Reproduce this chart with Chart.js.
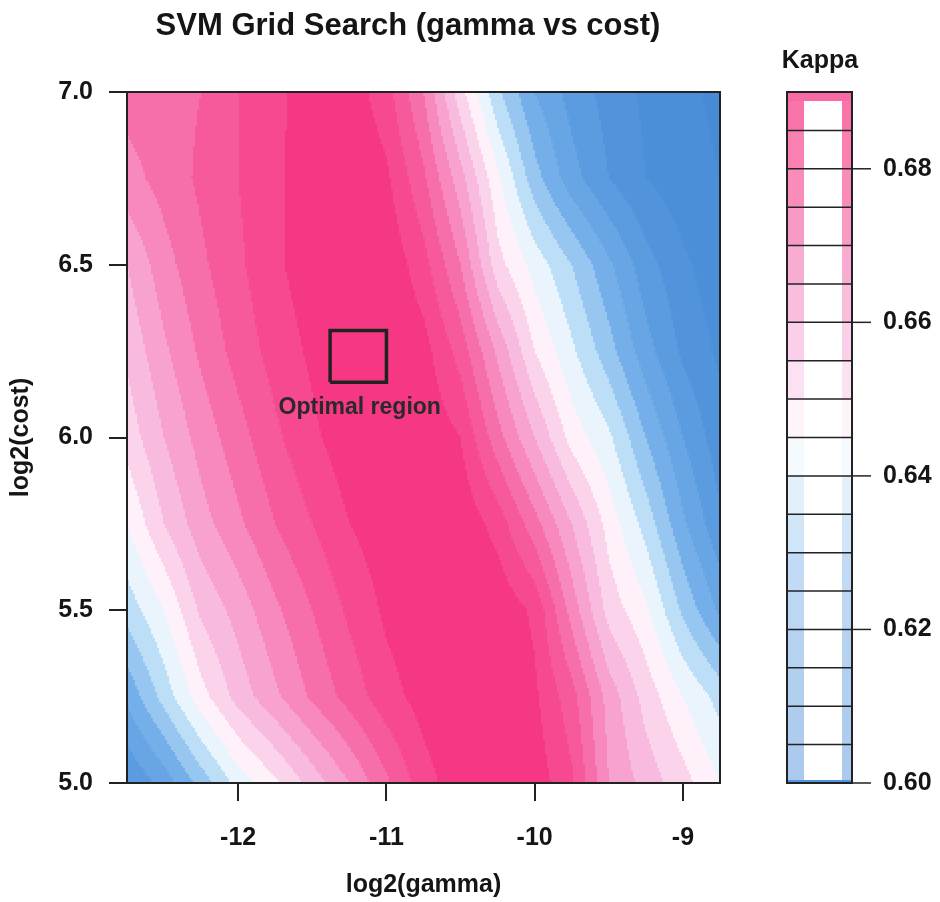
<!DOCTYPE html>
<html>
<head>
<meta charset="utf-8">
<script src="https://cdn.jsdelivr.net/npm/chart.js@4.4.1/dist/chart.umd.min.js"></script>
<style>
  html, body { margin: 0; padding: 0; background: #fff; }
  #wrap { width: 940px; height: 902px; }
</style>
</head>
<body>
<div id="wrap"><canvas id="chart" width="940" height="902"></canvas></div>
<script>
// ===== Data =====
const gammaVals = [-12.75, -12.5, -12.25, -12, -11.75, -11.5, -11.25, -11, -10.75, -10.5, -10.25, -10, -9.75, -9.5, -9.25, -9, -8.75];
const costVals = [5.0, 5.25, 5.5, 5.75, 6.0, 6.25, 6.5, 6.75, 7.0];

// kappa per cost row, left to right along gammaVals
const kappa500 = [0.615, 0.622, 0.632, 0.642, 0.649, 0.657, 0.665, 0.674, 0.683, 0.688, 0.690, 0.688, 0.681, 0.665, 0.658, 0.652, 0.645];
const kappa525 = [0.626, 0.637, 0.648, 0.657, 0.664, 0.671, 0.677, 0.683, 0.687, 0.690, 0.689, 0.686, 0.677, 0.663, 0.653, 0.645, 0.638];
const kappa550 = [0.637, 0.645, 0.656, 0.662, 0.669, 0.675, 0.681, 0.686, 0.689, 0.690, 0.689, 0.684, 0.668, 0.653, 0.646, 0.634, 0.624];
const kappa575 = [0.645, 0.655, 0.663, 0.669, 0.675, 0.680, 0.685, 0.688, 0.690, 0.689, 0.683, 0.672, 0.660, 0.648, 0.638, 0.626, 0.616];
const kappa600 = [0.652, 0.660, 0.667, 0.673, 0.679, 0.684, 0.688, 0.690, 0.689, 0.685, 0.672, 0.660, 0.648, 0.641, 0.630, 0.620, 0.612];
const kappa625 = [0.656, 0.664, 0.671, 0.677, 0.682, 0.686, 0.689, 0.690, 0.687, 0.678, 0.664, 0.650, 0.641, 0.632, 0.622, 0.614, 0.609];
const kappa650 = [0.660, 0.668, 0.674, 0.679, 0.684, 0.688, 0.690, 0.689, 0.682, 0.670, 0.652, 0.643, 0.635, 0.626, 0.617, 0.611, 0.607];
const kappa675 = [0.668, 0.672, 0.676, 0.680, 0.684, 0.688, 0.690, 0.686, 0.676, 0.662, 0.646, 0.632, 0.622, 0.615, 0.610, 0.607, 0.605];
const kappa700 = [0.672, 0.673, 0.675, 0.680, 0.684, 0.687, 0.688, 0.682, 0.670, 0.652, 0.636, 0.625, 0.618, 0.613, 0.609, 0.606, 0.604];
const kappaRows = [kappa500, kappa525, kappa550, kappa575, kappa600, kappa625, kappa650, kappa675, kappa700];

const gammaTicks = [-12, -11, -10, -9];
const costTicks = [5.0, 5.5, 6.0, 6.5, 7.0];
const kappaTicks = [0.60, 0.62, 0.64, 0.66, 0.68];
const kappaLevels = [0.600, 0.605, 0.610, 0.615, 0.620, 0.625, 0.630, 0.635, 0.640, 0.645,
                     0.650, 0.655, 0.660, 0.665, 0.670, 0.675, 0.680, 0.685, 0.690];

// optimal region box (gamma range, cost range) and label anchor
const optGamma = [-11.38, -11.0];
const optCost = [6.16, 6.31];
const optLabel = { x: -11.18, y: 6.085, text: 'Optimal region' };

// ===== Colours =====
const colorStops = [
  [0.600, [68, 136, 212]],
  [0.615, [84, 150, 222]],
  [0.628, [118, 176, 234]],
  [0.638, [192, 224, 248]],
  [0.645, [255, 255, 255]],
  [0.655, [250, 198, 230]],
  [0.665, [247, 150, 200]],
  [0.675, [246, 98, 160]],
  [0.690, [246, 48, 126]],
];

function colorFor(v) {
  if (v <= colorStops[0][0]) return colorStops[0][1];
  for (let i = 1; i < colorStops.length; i++) {
    const [v1, c1] = colorStops[i];
    if (v <= v1) {
      const [v0, c0] = colorStops[i - 1];
      const t = (v - v0) / (v1 - v0);
      return c0.map((c, k) => Math.round(c + (c1[k] - c) * t));
    }
  }
  return colorStops[colorStops.length - 1][1];
}

const rgb = c => `rgb(${c[0]},${c[1]},${c[2]})`;
const tint = (c, w) => c.map(v => Math.round(v + (255 - v) * w));
const bandColors = kappaLevels.slice(0, -1).map((lo, i) => colorFor((lo + kappaLevels[i + 1]) / 2));

function bandIndex(v) {
  for (let i = kappaLevels.length - 2; i >= 0; i--) {
    if (v >= kappaLevels[i]) return i;
  }
  return 0;
}

function kappaAt(g, c) {
  const fx = (g - gammaVals[0]) / (gammaVals[gammaVals.length - 1] - gammaVals[0]) * (gammaVals.length - 1);
  const fy = (c - costVals[0]) / (costVals[costVals.length - 1] - costVals[0]) * (costVals.length - 1);
  const i = Math.max(0, Math.min(gammaVals.length - 2, Math.floor(fx)));
  const j = Math.max(0, Math.min(costVals.length - 2, Math.floor(fy)));
  const tx = Math.max(0, Math.min(1, fx - i));
  const ty = Math.max(0, Math.min(1, fy - j));
  const a = kappaRows[j][i], b = kappaRows[j][i + 1];
  const d = kappaRows[j + 1][i], e = kappaRows[j + 1][i + 1];
  return (a * (1 - tx) + b * tx) * (1 - ty) + (d * (1 - tx) + e * tx) * ty;
}

const FONT = "'Liberation Sans', Arial, sans-serif";
const INK = '#151515';

// ===== Plugins =====
const heatmapPlugin = {
  id: 'heatmap',
  beforeDatasetsDraw(chart) {
    const ctx = chart.ctx;
    const { left, right, top, bottom } = chart.chartArea;
    const xs = chart.scales.x, ys = chart.scales.y;
    const step = 2;
    ctx.save();
    ctx.beginPath();
    ctx.rect(left, top, right - left, bottom - top);
    ctx.clip();
    for (let px = Math.floor(left); px < right; px += step) {
      const g = xs.getValueForPixel(px + step / 2);
      for (let py = Math.floor(top); py < bottom; py += step) {
        const c = ys.getValueForPixel(py + step / 2);
        ctx.fillStyle = rgb(bandColors[bandIndex(kappaAt(g, c))]);
        ctx.fillRect(px, py, step, step);
      }
    }
    ctx.restore();
  },
  afterDatasetsDraw(chart) {
    const ctx = chart.ctx;
    const { left, right, top, bottom } = chart.chartArea;
    ctx.save();
    ctx.strokeStyle = '#222';
    ctx.lineWidth = 2;
    ctx.strokeRect(left, top, right - left, bottom - top);
    // label for the optimal box
    const xs = chart.scales.x, ys = chart.scales.y;
    ctx.fillStyle = '#2a2a2a';
    ctx.font = `bold 23px ${FONT}`;
    ctx.textAlign = 'center';
    ctx.textBaseline = 'middle';
    ctx.fillText(optLabel.text, xs.getPixelForValue(optLabel.x), ys.getPixelForValue(optLabel.y));
    ctx.restore();
  }
};

const colorKeyPlugin = {
  id: 'colorKey',
  afterDraw(chart) {
    const ctx = chart.ctx;
    const ks = chart.scales.k;
    const x0 = 787, x1 = 852;
    ctx.save();
    for (let i = 0; i < kappaLevels.length - 1; i++) {
      const yTop = ks.getPixelForValue(kappaLevels[i + 1]);
      const yBot = ks.getPixelForValue(kappaLevels[i]);
      const c = tint(bandColors[i], kappaLevels[i] < 0.645 ? 0.55 : 0.3);
      ctx.fillStyle = '#fff';
      ctx.fillRect(x0, yTop, x1 - x0, yBot - yTop);
      ctx.fillStyle = rgb(c);
      ctx.fillRect(x0, yTop, 17, yBot - yTop);
      ctx.fillRect(x1 - 10, yTop, 10, yBot - yTop);
    }
    const topY = ks.getPixelForValue(kappaLevels[kappaLevels.length - 1]);
    const botY = ks.getPixelForValue(kappaLevels[0]);
    ctx.fillStyle = rgb(tint(bandColors[bandColors.length - 1], 0.25));
    ctx.fillRect(x0, topY, x1 - x0, 9);
    ctx.fillStyle = rgb(bandColors[2]);
    ctx.fillRect(x0, botY - 3, x1 - x0, 3);

    ctx.strokeStyle = '#222';
    ctx.lineWidth = 1.5;
    for (let i = 1; i < kappaLevels.length - 1; i++) {
      const y = ks.getPixelForValue(kappaLevels[i]);
      ctx.beginPath();
      ctx.moveTo(x0, y);
      ctx.lineTo(x1, y);
      ctx.stroke();
    }
    kappaTicks.forEach(v => {
      const y = ks.getPixelForValue(v);
      ctx.beginPath();
      ctx.moveTo(x1, y);
      ctx.lineTo(x1 + 19, y);
      ctx.stroke();
    });
    ctx.lineWidth = 2;
    ctx.strokeRect(x0, topY, x1 - x0, botY - topY);

    // titles
    ctx.fillStyle = INK;
    ctx.textAlign = 'center';
    ctx.textBaseline = 'middle';
    ctx.font = `bold 31px ${FONT}`;
    ctx.fillText('SVM Grid Search (gamma vs cost)', 408, 26);
    ctx.font = `bold 25px ${FONT}`;
    ctx.fillText('Kappa', 820, 61);
    ctx.restore();
  }
};

// ===== Chart =====
const boxPoints = [
  { x: optGamma[0], y: optCost[0] },
  { x: optGamma[0], y: optCost[1] },
  { x: optGamma[1], y: optCost[1] },
  { x: optGamma[1], y: optCost[0] },
  { x: optGamma[0], y: optCost[0] },
];

const tickFont = { family: FONT, size: 25, weight: 'bold' };

new Chart(document.getElementById('chart'), {
  type: 'scatter',
  data: {
    datasets: [{
      label: 'Optimal region',
      data: boxPoints,
      showLine: true,
      borderColor: '#222',
      borderWidth: 3.5,
      pointRadius: 0,
      fill: false,
      tension: 0,
    }]
  },
  options: {
    responsive: false,
    animation: false,
    layout: { padding: { top: 92, left: 0, right: 0, bottom: 0 } },
    plugins: {
      legend: { display: false },
      tooltip: { enabled: false },
    },
    scales: {
      x: {
        type: 'linear',
        min: -12.75,
        max: -8.75,
        afterBuildTicks: s => { s.ticks = gammaTicks.map(v => ({ value: v })); },
        afterFit: s => { s.height = 119; s.paddingLeft = 0; s.paddingRight = 0; },
        ticks: { font: tickFont, color: INK, padding: 22, callback: v => String(v) },
        grid: { drawOnChartArea: false, drawTicks: true, tickLength: 18, color: '#222', lineWidth: 2 },
        border: { display: true, color: '#222', width: 2 },
        title: { display: true, text: 'log2(gamma)', font: { family: FONT, size: 25, weight: 'bold' }, color: INK, padding: { top: 0, bottom: 2 } },
      },
      y: {
        type: 'linear',
        min: 5,
        max: 7,
        afterBuildTicks: s => { s.ticks = costTicks.map(v => ({ value: v })); },
        afterFit: s => { s.width = 127; s.paddingTop = 0; s.paddingBottom = 0; },
        ticks: { font: tickFont, color: INK, padding: 16, callback: v => v.toFixed(1) },
        grid: { drawOnChartArea: false, drawTicks: true, tickLength: 18, color: '#222', lineWidth: 2 },
        border: { display: true, color: '#222', width: 2 },
        title: { display: true, text: 'log2(cost)', font: { family: FONT, size: 25, weight: 'bold' }, color: INK, padding: { top: 6, bottom: 0 } },
      },
      k: {
        type: 'linear',
        position: 'right',
        min: 0.60,
        max: 0.69,
        afterBuildTicks: s => { s.ticks = kappaTicks.map(v => ({ value: v })); },
        afterFit: s => { s.width = 220; s.paddingTop = 0; s.paddingBottom = 0; },
        ticks: { font: tickFont, color: INK, padding: 163, callback: v => v.toFixed(2) },
        grid: { display: false, drawTicks: false },
        border: { display: false },
      },
    }
  },
  plugins: [heatmapPlugin, colorKeyPlugin]
});
</script>
</body>
</html>
